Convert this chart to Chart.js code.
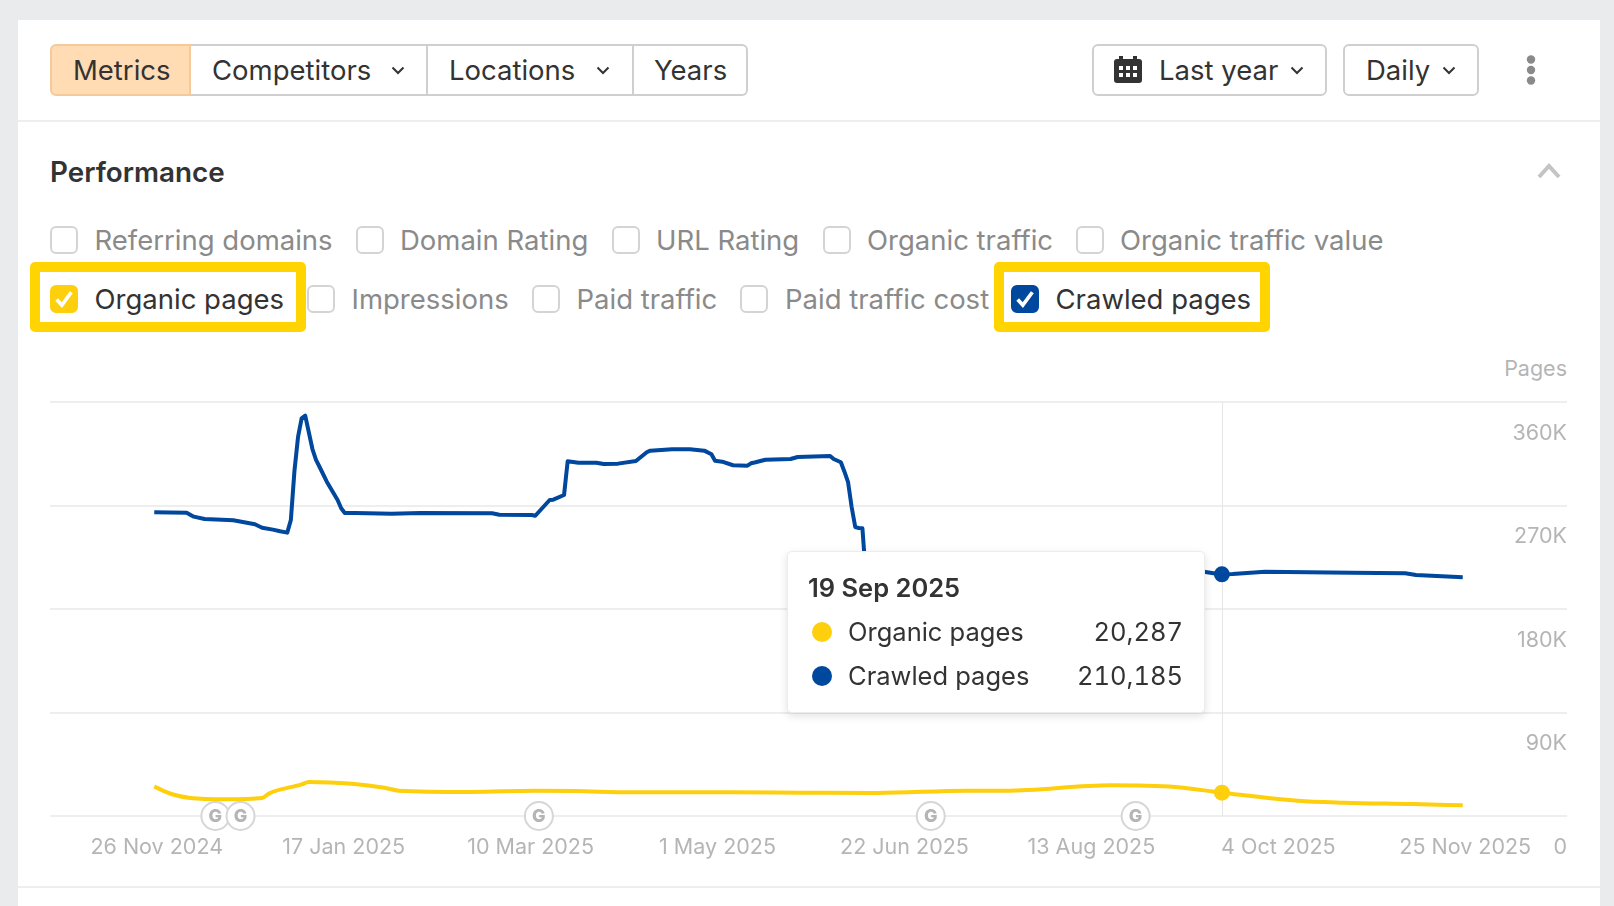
<!DOCTYPE html>
<html>
<head>
<meta charset="utf-8">
<title>Performance</title>
<script src="https://cdn.jsdelivr.net/npm/chart.js@4"></script>
<style>
html, body { margin: 0; padding: 0; width: 1614px; height: 906px; overflow: hidden; background: #eaebed; font-family: Inter, sans-serif; color: #333; }
#card { position: absolute; left: 18px; top: 20px; width: 1582px; height: 886px; background: #fff; }
.abs { position: absolute; }
.t { position: absolute; transform: translateY(-50%); white-space: nowrap; font-size: 27.5px; line-height: 36px; }
.btn { position: absolute; box-sizing: border-box; top: 44px; height: 52px; border: 2px solid #cfcfcf; background: #fff; }
.cb { position: absolute; box-sizing: border-box; width: 28px; height: 28px; border: 2px solid #d4d4d4; border-radius: 6px; background: #fff; transform: translateY(-50%); }
.cb svg { position: absolute; left: 1px; top: 1px; }
.off { color: #8a8a8a; }
.hr { position: absolute; left: 18px; width: 1582px; height: 2px; background: #eeeeee; }
.box { position: absolute; box-sizing: border-box; border: 10px solid #ffd400; border-radius: 5px; top: 262px; height: 70px; }
#chart-wrap { position: absolute; left: 40px; top: 382px; width: 1537px; height: 488px; }
#tooltip { position: absolute; box-sizing: border-box; left: 787px; top: 551px; width: 418px; height: 162px; background: #fff; border: 1px solid #ececec; border-radius: 5px; box-shadow: 0 3px 8px rgba(0,0,0,0.12); }
#tooltip .t { font-size: 25.5px; }
#tooltip .num { font-variant-numeric: tabular-nums; }
#tooltip .dot { position: absolute; width: 20px; height: 20px; border-radius: 50%; transform: translateY(-50%); left: 24px; }
</style>
</head>
<body>
<div id="card"></div>

<!-- toolbar -->
<div class="btn" style="left:50px;width:141px;background:#ffdcb3;border-color:#f6c99a;border-radius:6px 0 0 6px"></div>
<div class="btn" style="left:191px;width:237px;border-left:none"></div>
<div class="btn" style="left:428px;width:206px;border-left:none"></div>
<div class="btn" style="left:634px;width:114px;border-left:none;border-radius:0 6px 6px 0"></div>
<div class="t" style="left:73px;top:70px">Metrics</div>
<div class="t" style="left:212px;top:70px">Competitors</div>
<svg class="abs" style="left:391px;top:66px" width="14" height="9" viewBox="0 0 14 9"><path d="M1.5 1.5 L7 7 L12.5 1.5" fill="none" stroke="#333" stroke-width="2"/></svg>
<div class="t" style="left:449px;top:70px">Locations</div>
<svg class="abs" style="left:596px;top:66px" width="14" height="9" viewBox="0 0 14 9"><path d="M1.5 1.5 L7 7 L12.5 1.5" fill="none" stroke="#333" stroke-width="2"/></svg>
<div class="t" style="left:654px;top:70px">Years</div>

<div class="btn" style="left:1092px;width:235px;border-radius:6px"></div>
<svg class="abs" style="left:1114px;top:56px" width="28" height="27" viewBox="0 0 28 27">
  <rect x="0" y="3" width="28" height="24" rx="3" fill="#333"/>
  <rect x="5" y="0" width="4" height="5" fill="#333"/><rect x="19" y="0" width="4" height="5" fill="#333"/>
  <g fill="#fff"><rect x="5" y="10" width="4" height="4"/><rect x="12" y="10" width="4" height="4"/><rect x="19" y="10" width="4" height="4"/><rect x="5" y="17" width="4" height="4"/><rect x="12" y="17" width="4" height="4"/><rect x="19" y="17" width="4" height="4"/></g>
</svg>
<div class="t" style="left:1159px;top:70px">Last year</div>
<svg class="abs" style="left:1290px;top:66px" width="14" height="9" viewBox="0 0 14 9"><path d="M1.5 1.5 L7 7 L12.5 1.5" fill="none" stroke="#333" stroke-width="2"/></svg>
<div class="btn" style="left:1343px;width:136px;border-radius:6px"></div>
<div class="t" style="left:1366px;top:70px">Daily</div>
<svg class="abs" style="left:1442px;top:66px" width="14" height="9" viewBox="0 0 14 9"><path d="M1.5 1.5 L7 7 L12.5 1.5" fill="none" stroke="#333" stroke-width="2"/></svg>
<svg class="abs" style="left:1526px;top:55px" width="10" height="30" viewBox="0 0 10 30"><g fill="#8a8a8a"><circle cx="5" cy="4.5" r="4.2"/><circle cx="5" cy="15" r="4.2"/><circle cx="5" cy="25.5" r="4.2"/></g></svg>
<div class="hr" style="top:120px"></div>

<!-- section header -->
<div class="t" style="left:50px;top:172px;font-size:27.8px;font-weight:600">Performance</div>
<svg class="abs" style="left:1537px;top:163px" width="24" height="16" viewBox="0 0 24 16"><path d="M2 14 L12 3 L22 14" fill="none" stroke="#c4c4c4" stroke-width="4"/></svg>

<!-- metric checkboxes -->
<div class="cb" style="left:50px;top:240px"></div><div class="t off" style="left:94.5px;top:240px">Referring domains</div>
<div class="cb" style="left:356px;top:240px"></div><div class="t off" style="left:400px;top:240px">Domain Rating</div>
<div class="cb" style="left:612px;top:240px"></div><div class="t off" style="left:656px;top:240px">URL Rating</div>
<div class="cb" style="left:823px;top:240px"></div><div class="t off" style="left:867px;top:240px">Organic traffic</div>
<div class="cb" style="left:1076px;top:240px"></div><div class="t off" style="left:1120px;top:240px">Organic traffic value</div>

<div class="box" style="left:30px;width:276px"></div>
<div class="box" style="left:994px;width:276px"></div>
<div class="cb" style="left:50px;top:299px;background:#fdcf0d;border-color:#fdcf0d"><svg width="22" height="22" viewBox="0 0 18 18"><path d="M3 9.5 L7.2 14 L15 3.5" fill="none" stroke="#fff" stroke-width="3"/></svg></div>
<div class="t" style="left:94.5px;top:299px">Organic pages</div>
<div class="cb" style="left:307px;top:299px"></div><div class="t off" style="left:351.5px;top:299px">Impressions</div>
<div class="cb" style="left:532px;top:299px"></div><div class="t off" style="left:576.5px;top:299px">Paid traffic</div>
<div class="cb" style="left:740px;top:299px"></div><div class="t off" style="left:785px;top:299px">Paid traffic cost</div>
<div class="cb" style="left:1011px;top:299px;background:#00479e;border-color:#00479e"><svg width="22" height="22" viewBox="0 0 18 18"><path d="M3 9.5 L7.2 14 L15 3.5" fill="none" stroke="#fff" stroke-width="3"/></svg></div>
<div class="t" style="left:1055.5px;top:299px">Crawled pages</div>

<div class="t" style="right:47px;top:368px;font-size:21.5px;color:#b5b5b5">Pages</div>

<div id="chart-wrap"><canvas id="pages-chart" width="1537" height="488"></canvas></div>

<!-- tooltip -->
<div id="tooltip">
  <div class="t" id="tip-date" style="left:20px;top:36px;font-weight:600"></div>
  <div class="dot" style="top:80px;background:#fdcf0d"></div>
  <div class="t" id="tip-organic-name" style="left:60px;top:80px"></div>
  <div class="t num" id="tip-organic" style="right:21px;top:80px"></div>
  <div class="dot" style="top:124px;background:#00479e"></div>
  <div class="t" id="tip-crawled-name" style="left:60px;top:124px"></div>
  <div class="t num" id="tip-crawled" style="right:21px;top:124px"></div>
</div>

<div class="hr" style="top:886px"></div>

<script>
// all x values are days since 26 Nov 2024
const crawledDays = [0, 9, 11, 14, 22, 28, 30, 33, 35, 37, 38, 39, 40, 41, 42, 44, 45, 46, 48, 51, 52, 53, 56, 66, 74, 94, 96, 105, 106, 110, 111, 114, 115, 118, 123, 125, 129, 134, 137, 138, 144, 149, 153, 155, 156, 158, 161, 165, 166, 167, 170, 177, 179, 188, 189, 191, 192, 193, 194, 195, 196, 197, 198, 205, 250, 292, 296, 297, 300, 305, 309, 333, 348, 351, 364];
const crawledPages = [264100, 263750, 260300, 258300, 257100, 253700, 250700, 249000, 247600, 246400, 257400, 300000, 329600, 345700, 348100, 319100, 309600, 303500, 290700, 274800, 267600, 263500, 263500, 262900, 263500, 263200, 262000, 261750, 261100, 274800, 275100, 279100, 308400, 307200, 307200, 306100, 306400, 308700, 316300, 317700, 318900, 318900, 317700, 314500, 309000, 308100, 305000, 304600, 306700, 307400, 309800, 310400, 312200, 313100, 310400, 307600, 299400, 290400, 268700, 251300, 250400, 250200, 207000, 212000, 212000, 212400, 210400, 210185, 210400, 211600, 212400, 211600, 211000, 209600, 207600];

const organicDays = [0, 5, 10, 20, 30, 32, 41, 43, 55, 64, 68, 88, 106, 117, 133, 160, 180, 201, 226, 237, 266, 284, 297, 318, 331, 350, 364];
const organicPages = [25500, 18900, 15650, 14500, 15650, 19700, 27500, 29600, 28100, 24600, 22000, 20900, 22000, 21700, 20600, 20600, 20300, 20000, 22000, 22000, 26700, 25200, 20287, 13300, 11600, 10400, 9300];

const tickDays = [0, 52, 104, 156, 208, 260, 312, 364];
const tickLabels = ['26 Nov 2024', '17 Jan 2025', '10 Mar 2025', '1 May 2025', '22 Jun 2025', '13 Aug 2025', '4 Oct 2025', '25 Nov 2025'];
const yTickLabels = ['0', '90K', '180K', '270K', '360K'];

// google update markers on the axis
const updateDays = [17, 24, 107, 216, 273];

// hovered day shown in the tooltip
const hoverDay = 297;
const hoverLabel = '19 Sep 2025';

const ORGANIC_COLOR = '#fdcf0d';
const CRAWLED_COLOR = '#00479e';
const GREY_TEXT = '#b5b5b5';

function toPoints(days, values) {
    return days.map((d, i) => ({ x: d, y: values[i] }));
}

// tooltip text
document.getElementById('tip-date').textContent = hoverLabel;
document.getElementById('tip-organic-name').textContent = 'Organic pages';
document.getElementById('tip-crawled-name').textContent = 'Crawled pages';
document.getElementById('tip-organic').textContent = organicPages[organicDays.indexOf(hoverDay)].toLocaleString('en-US');
document.getElementById('tip-crawled').textContent = crawledPages[crawledDays.indexOf(hoverDay)].toLocaleString('en-US');

// vertical line at the hovered day
const crosshairPlugin = {
    id: 'crosshair',
    beforeDatasetsDraw(chart) {
        const { ctx, chartArea, scales } = chart;
        const x = Math.round(scales.x.getPixelForValue(hoverDay)) + 0.5;
        ctx.save();
        ctx.strokeStyle = '#e6e6e6';
        ctx.lineWidth = 1;
        ctx.beginPath();
        ctx.moveTo(x, chartArea.top);
        ctx.lineTo(x, chartArea.bottom);
        ctx.stroke();
        ctx.restore();
    }
};

// G circles on the x axis
const updatesPlugin = {
    id: 'updates',
    beforeDatasetsDraw(chart) {
        const { ctx, chartArea, scales } = chart;
        ctx.save();
        updateDays.forEach(day => {
            const x = scales.x.getPixelForValue(day);
            ctx.beginPath();
            ctx.arc(x, chartArea.bottom, 14, 0, Math.PI * 2);
            ctx.fillStyle = '#fff';
            ctx.fill();
            ctx.lineWidth = 2;
            ctx.strokeStyle = '#d6d6d6';
            ctx.stroke();
            ctx.fillStyle = GREY_TEXT;
            ctx.font = '800 18px Inter';
            ctx.textAlign = 'center';
            ctx.textBaseline = 'middle';
            ctx.fillText('G', x, chartArea.bottom + 1);
        });
        ctx.restore();
    }
};

function hoverRadius(ctx) {
    return ctx.raw && ctx.raw.x === hoverDay ? 8 : 0;
}

const ctx = document.getElementById('pages-chart').getContext('2d');
new Chart(ctx, {
    type: 'line',
    data: {
        datasets: [
            {
                label: 'Organic pages',
                data: toPoints(organicDays, organicPages),
                borderColor: ORGANIC_COLOR,
                backgroundColor: ORGANIC_COLOR,
                borderWidth: 4,
                cubicInterpolationMode: 'monotone',
                pointRadius: hoverRadius,
                pointBorderWidth: 0
            },
            {
                label: 'Crawled pages',
                data: toPoints(crawledDays, crawledPages),
                borderColor: CRAWLED_COLOR,
                backgroundColor: CRAWLED_COLOR,
                borderWidth: 4,
                borderJoinStyle: 'round',
                tension: 0,
                pointRadius: hoverRadius,
                pointBorderWidth: 0
            }
        ]
    },
    options: {
        responsive: false,
        animation: false,
        devicePixelRatio: 1,
        layout: { padding: { left: 10, right: 10, top: 20, bottom: 0 } },
        plugins: { legend: { display: false }, tooltip: { enabled: false } },
        scales: {
            x: {
                type: 'linear',
                min: -29,
                max: 393,
                grid: { display: false },
                border: { display: false },
                afterBuildTicks(scale) {
                    scale.ticks = tickDays.map(v => ({ value: v }));
                },
                afterFit(scale) {
                    scale.height = 54;
                },
                ticks: {
                    autoSkip: false,
                    maxRotation: 0,
                    padding: 11,
                    labelOffset: 2.5,
                    color: GREY_TEXT,
                    font: { family: 'Inter', size: 21.5 },
                    callback: (v, i) => tickLabels[i]
                }
            },
            y: {
                position: 'right',
                min: 0,
                max: 360000,
                grid: { color: '#eeeeee', lineWidth: 2, drawTicks: false },
                border: { display: false },
                ticks: {
                    stepSize: 90000,
                    mirror: true,
                    padding: 0,
                    labelOffset: 31.5,
                    color: GREY_TEXT,
                    font: { family: 'Inter', size: 21.5 },
                    callback: (v, i) => yTickLabels[i]
                }
            }
        }
    },
    plugins: [crosshairPlugin, updatesPlugin]
});
</script>
</body>
</html>
